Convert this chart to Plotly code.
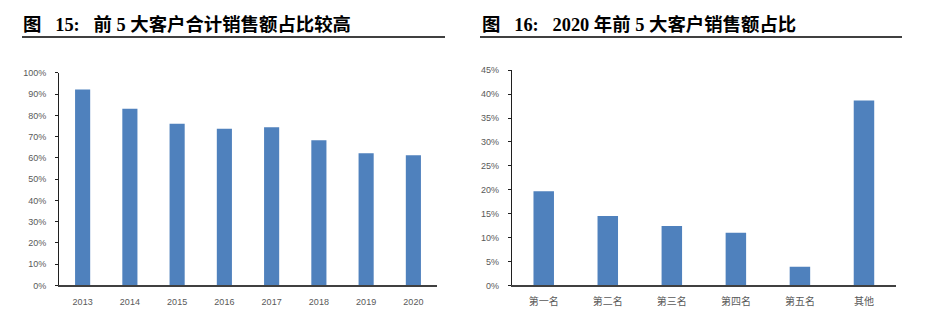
import plotly.graph_objects as go

# ---- data ----
years = ["2013", "2014", "2015", "2016", "2017", "2018", "2019", "2020"]
top5_share = [0.922, 0.831, 0.761, 0.737, 0.744, 0.683, 0.622, 0.612]

customers = ["第一名", "第二名", "第三名", "第四名", "第五名", "其他"]
customer_share = [0.197, 0.145, 0.124, 0.110, 0.039, 0.387]

title_left = "图\u2002 15:\u2002 前 5 大客户合计销售额占比较高"
title_right = "图\u2002 16:\u2002 2020 年前 5 大客户销售额占比"

W, H = 925, 335
BAR = "#4F81BD"
TICK = "#595959"
tick_font = dict(family="Liberation Sans, Noto Sans CJK SC, sans-serif", size=9, color=TICK)

fig = go.Figure()
fig.add_trace(go.Bar(x=years, y=top5_share, marker=dict(color=BAR, line=dict(width=0)),
                     xaxis="x", yaxis="y", showlegend=False))
fig.add_trace(go.Bar(x=customers, y=customer_share, marker=dict(color=BAR, line=dict(width=0)),
                     xaxis="x2", yaxis="y2", showlegend=False))

def px_x(p):
    return p / W

def px_y(p):
    return 1 - p / H

fig.update_layout(
    width=W, height=H,
    margin=dict(l=0, r=0, t=0, b=0),
    paper_bgcolor="white", plot_bgcolor="white",
    bargap=0.68,
    xaxis=dict(domain=[px_x(59), px_x(437)], anchor="y", showline=True, linecolor="#404040",
               linewidth=1.5, ticks="", tickfont=tick_font, showgrid=False, zeroline=False,
               ticklabelstandoff=7),
    yaxis=dict(domain=[px_y(289), px_y(70)], anchor="x", range=[0, 1], dtick=0.1,
               tickformat=".0%", showline=True, linecolor="#202020", linewidth=1,
               ticks="outside", ticklen=3, tickcolor="#202020", tickfont=tick_font,
               showgrid=False, zeroline=False, ticklabelstandoff=7),
    xaxis2=dict(domain=[px_x(511.7), px_x(896)], anchor="y2", showline=True, linecolor="#404040",
                linewidth=1.5, ticks="", tickfont=dict(tick_font, size=10), showgrid=False,
                zeroline=False, ticklabelstandoff=6),
    yaxis2=dict(domain=[px_y(289), px_y(67.3)], anchor="x2", range=[0, 0.45], dtick=0.05,
                tickformat=".0%", showline=True, linecolor="#202020", linewidth=1,
                ticks="outside", ticklen=3, tickcolor="#202020", tickfont=tick_font,
                showgrid=False, zeroline=False, ticklabelstandoff=7),
)

title_font = dict(family="Liberation Serif, Noto Sans CJK SC, serif", size=18.4, color="black")
fig.add_annotation(text="<b>" + title_left + "</b>", xref="paper", yref="paper",
                   x=px_x(21), y=px_y(20), xanchor="left", yanchor="middle",
                   showarrow=False, font=title_font)
fig.add_annotation(text="<b>" + title_right + "</b>", xref="paper", yref="paper",
                   x=px_x(480), y=px_y(20), xanchor="left", yanchor="middle",
                   showarrow=False, font=title_font)
fig.add_shape(type="line", xref="paper", yref="paper", x0=px_x(22), x1=px_x(445),
              y0=px_y(33), y1=px_y(33), line=dict(color="black", width=1.5))
fig.add_shape(type="line", xref="paper", yref="paper", x0=px_x(480), x1=px_x(902),
              y0=px_y(33), y1=px_y(33), line=dict(color="black", width=1.5))

fig.write_html("out.html")
